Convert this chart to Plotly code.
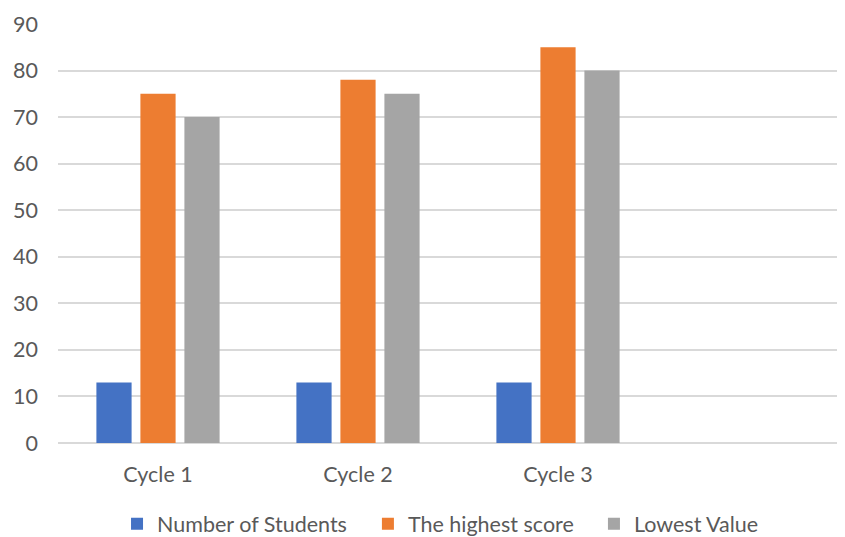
import plotly.graph_objects as go

categories = ["Cycle 1", "Cycle 2", "Cycle 3"]
number_of_students = [13, 13, 13]
highest_score = [75, 78, 85]
lowest_value = [70, 75, 80]
y_ticks = [0, 10, 20, 30, 40, 50, 60, 70, 80, 90]

font_family = "Lato, Noto Sans, sans-serif"
text_color = "#595959"

fig = go.Figure()
fig.add_trace(go.Bar(x=categories, y=number_of_students, name="Number of Students",
                     marker=dict(color="#4472C4", line=dict(width=0)), legend="legend"))
fig.add_trace(go.Bar(x=categories, y=highest_score, name="The highest score",
                     marker=dict(color="#ED7D31", line=dict(width=0)), legend="legend2"))
fig.add_trace(go.Bar(x=categories, y=lowest_value, name="Lowest Value",
                     marker=dict(color="#A5A5A5", line=dict(width=0)), legend="legend3"))

legend_common = dict(orientation="h", xanchor="left", yref="container", y=0.025,
                     yanchor="middle", font=dict(size=21.5, color=text_color),
                     itemsizing="constant", borderwidth=0, bgcolor="rgba(0,0,0,0)")

fig.update_layout(
    template="none",
    width=837, height=529,
    margin=dict(l=50, r=0, t=16, b=94, pad=0, autoexpand=False),
    paper_bgcolor="white", plot_bgcolor="white",
    barmode="group", bargap=0.34, bargroupgap=0.2,
    font=dict(family=font_family, size=21.5, color=text_color),
    showlegend=True,
    legend=dict(x=0.0750, **legend_common),
    legend2=dict(x=0.3938, **legend_common),
    legend3=dict(x=0.6810, **legend_common),
    xaxis=dict(type="category", categoryorder="array", categoryarray=categories,
               range=[-0.5, 3.435], showgrid=False, showline=False, zeroline=False,
               automargin=False, ticks="", ticklabelstandoff=16,
               tickfont=dict(size=21.5, color=text_color)),
    yaxis=dict(range=[0, 90], tickvals=y_ticks, showgrid=True, gridcolor="#D9D9D9",
               gridwidth=1.5, zeroline=True, zerolinecolor="#D9D9D9", zerolinewidth=1.5,
               showline=False, ticks="", ticklabelstandoff=19, automargin=False,
               tickfont=dict(size=21.5, color=text_color)),
)

fig.write_html(
    "out.html",
    post_script="document.documentElement.style.overflow='hidden';document.body.style.overflow='hidden';",
)
